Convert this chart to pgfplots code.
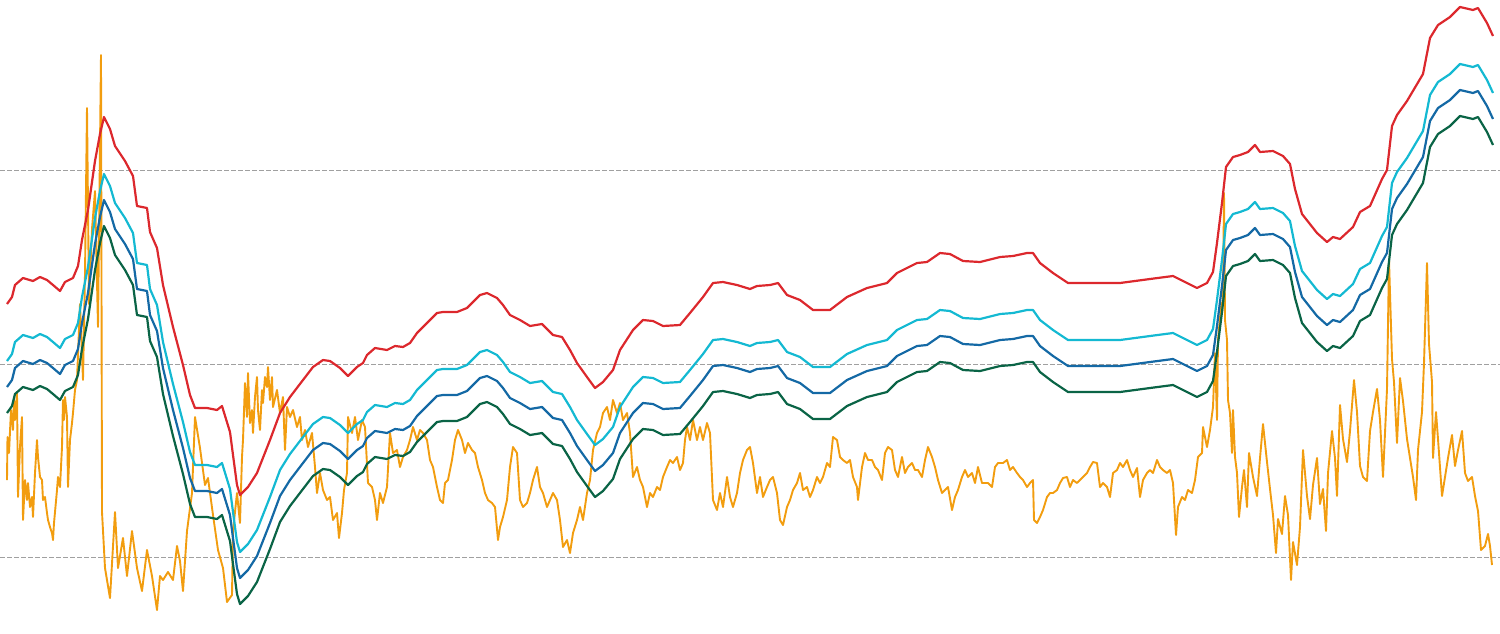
\documentclass[border=0pt]{standalone}
\usepackage{pgfplots}
\pgfplotsset{compat=1.18}
\usepackage{pgfplotstable}
\definecolor{cRed}{RGB}{220,40,45}
\definecolor{cCyan}{RGB}{20,185,210}
\definecolor{cBlue}{RGB}{20,105,165}
\definecolor{cGreen}{RGB}{10,100,70}
\definecolor{cOrange}{RGB}{242,157,15}
\definecolor{cGrid}{RGB}{160,160,160}
\pgfplotstableread{
x r c b g
7 304 361 387 413
12 297 354 380 406
15 285 342 368 394
23 278 335 361 387
33 281 338 364 390
40 277 334 360 386
47 280 337 363 389
53 285 342 368 394
60 291 348 374 400
65 282 339 365 391
73 278 335 361 387
78 266 323 349 375
82 240 297 323 349
88 210 267 293 319
95 161 218 244 270
100 134 191 217 243
104 117 174 200 226
110 129 186 212 238
115 146 203 229 255
125 161 218 244 270
133 176 233 259 285
137 206 263 289 315
147 208 265 291 317
150 232 289 315 341
157 248 305 331 357
163 285 342 368 394
173 327 384 410 436
183 365 422 448 474
190 395 452 478 504
195 408 465 491 517
207 408 465 491 517
217 410 467 493 519
222 406 463 489 515
230 432 489 515 541
233 455 512 538 564
237 485 542 568 594
240 495 552 578 604
248 487 544 570 596
257 473 530 556 582
270 440 497 523 549
280 413 470 496 522
290 397 454 480 506
303 380 437 463 489
313 367 424 450 476
323 360 417 443 469
330 361 418 444 470
340 368 425 451 477
348 376 433 459 485
357 367 424 450 476
363 363 420 446 472
367 355 412 438 464
375 348 405 431 457
387 350 407 433 459
395 346 403 429 455
403 347 404 430 456
410 343 400 426 452
417 333 390 416 442
427 323 380 406 432
437 313 370 396 422
443 312 369 395 421
457 312 369 395 421
467 308 365 391 417
480 295 352 378 404
487 293 350 376 402
497 298 355 381 407
503 305 362 388 414
510 315 372 398 424
520 320 377 403 429
530 326 383 409 435
542 324 381 407 433
553 335 392 418 444
562 337 394 420 446
570 350 407 433 459
577 363 420 446 472
587 377 434 460 486
595 388 445 471 497
603 382 439 465 491
613 370 427 453 479
620 350 407 433 459
633 330 387 413 439
643 320 377 403 429
653 321 378 404 430
663 326 383 409 435
680 325 382 408 434
690 313 370 396 422
703 297 354 380 406
713 283 340 366 392
723 282 339 365 391
737 285 342 368 394
750 289 346 372 398
757 286 343 369 395
770 285 342 368 394
778 283 340 366 392
787 295 352 378 404
800 300 357 383 409
813 310 367 393 419
830 310 367 393 419
847 297 354 380 406
867 288 345 371 397
887 283 340 366 392
897 273 330 356 382
917 263 320 346 372
927 262 319 345 371
940 253 310 336 362
950 254 311 337 363
963 261 318 344 370
980 262 319 345 371
1000 257 314 340 366
1013 256 313 339 365
1027 253 310 336 362
1033 253 310 336 362
1040 263 320 346 372
1053 273 330 356 382
1068 283 340 366 392
1083 283 340 366 392
1120 283 340 366 392
1150 279 336 362 388
1173 276 333 359 385
1187 283 340 366 392
1197 288 345 371 397
1207 283 340 366 392
1213 272 329 355 381
1217 243 300 326 352
1222 203 260 286 312
1226 167 224 250 276
1233 157 214 240 266
1240 155 212 238 264
1248 152 209 235 261
1255 145 202 228 254
1260 152 209 235 261
1273 151 208 234 260
1283 156 213 239 265
1290 164 221 247 273
1295 189 246 272 298
1302 214 271 297 323
1317 233 290 316 342
1327 242 299 325 351
1333 237 294 320 346
1340 239 296 322 348
1353 227 284 310 336
1360 212 269 295 321
1370 206 263 289 315
1382 179 236 262 288
1387 170 227 253 279
1392 126 183 209 235
1397 115 172 198 224
1407 101 158 184 210
1423 74 131 157 183
1430 38 95 121 147
1438 25 82 108 134
1450 17 74 100 126
1460 7 64 90 116
1473 10 67 93 119
1478 8 65 91 117
1487 23 80 106 132
1493 36 93 119 145
}\smoothdata
\pgfplotstableread{
x y
7 480
7.5 437
9 453
11 410
13 430
14 400
15 420
17 393
18 497
20 447
22 417
23 520
25 480
27 500
28 483
30 507
32 497
33 517
35 473
37 440
38 457
40 477
42 480
43 500
45 497
47 513
48 520
50 527
52 533
53 540
54 523
57 490
58 477
60 487
62 447
63 400
64 420
65 397
67 417
68 487
70 440
72 423
73 413
75 390
77 380
80 304
83 380
85 274
87 108
89 304
92 229
95 191
98 327
101 55
102 512
105 568
110 598
115 512
118 568
123 538
127 576
132 531
137 568
142 591
147 550
152 576
157 610
160 576
163 580
168 572
173 580
177 546
180 561
183 591
187 531
192 493
195 417
200 448
205 485
208 478
213 515
218 550
223 568
227 602
232 595
233 531
237 493
240 523
242 457
243 440
245 383
247 417
248 373
250 423
252 410
253 433
255 397
257 377
258 410
260 430
262 390
263 403
265 377
267 387
268 367
270 400
272 377
273 407
277 390
280 413
283 397
285 450
287 407
290 417
293 410
297 427
300 417
302 440
305 430
308 447
312 433
315 467
317 493
320 473
323 490
327 500
330 497
333 520
337 513
339 538
342 513
344 490
347 473
348 417
352 433
355 417
358 440
362 420
365 427
368 483
372 487
375 500
377 520
380 493
383 503
387 487
390 433
393 453
397 450
400 467
403 457
407 450
410 440
413 427
417 440
420 430
423 433
427 440
430 460
433 467
437 487
440 500
443 503
445 483
448 480
452 460
455 440
458 430
462 440
465 453
468 443
472 450
475 453
478 467
482 480
485 493
488 500
492 503
495 507
498 540
500 527
503 517
507 500
510 467
513 447
517 453
520 500
523 507
527 503
530 493
533 480
537 467
540 487
543 493
547 507
550 500
553 493
557 500
560 520
563 547
567 540
570 553
573 533
577 520
580 507
583 520
587 493
590 480
593 450
597 433
600 427
603 413
607 407
610 420
613 400
617 413
620 403
623 420
627 413
630 433
633 477
637 467
640 480
643 487
647 507
650 493
653 497
657 487
660 490
663 477
667 467
670 460
673 463
677 457
680 470
683 463
685 440
687 427
690 440
693 420
697 440
700 427
703 440
707 423
710 433
713 500
717 510
720 493
723 507
727 477
730 497
733 507
737 493
740 473
743 460
747 450
750 447
753 463
757 493
760 477
763 497
767 487
770 480
773 477
777 493
780 520
783 525
787 507
790 500
793 490
797 483
800 473
803 490
807 487
810 497
813 490
817 477
820 483
823 477
827 463
830 467
833 437
837 440
840 457
843 460
847 463
850 460
853 477
857 487
858 500
862 467
865 453
868 460
872 460
875 467
878 470
882 480
885 453
888 447
892 450
895 470
898 477
902 457
905 473
908 467
912 463
915 470
918 470
922 477
925 460
928 447
932 457
935 467
938 480
942 493
945 490
948 487
952 510
955 497
958 490
962 477
965 470
968 477
972 473
975 483
978 467
982 483
985 483
988 483
992 487
995 467
998 463
1003 463
1007 460
1010 470
1013 467
1017 473
1020 477
1023 480
1027 487
1030 483
1033 480
1034 520
1037 523
1040 517
1043 510
1047 497
1050 493
1053 493
1057 490
1060 483
1063 478
1067 477
1070 487
1073 480
1077 483
1080 480
1083 477
1087 473
1090 467
1093 462
1097 463
1100 487
1103 483
1107 487
1110 497
1113 473
1117 470
1120 463
1123 467
1127 460
1130 470
1133 477
1137 468
1140 497
1143 480
1147 473
1150 470
1153 473
1157 460
1160 467
1163 470
1167 473
1170 470
1173 483
1176 535
1178 507
1182 497
1185 500
1188 490
1192 493
1195 480
1198 457
1202 453
1203 427
1207 447
1210 430
1213 407
1215 353
1217 420
1218 340
1221 307
1223 300
1224 193
1225 320
1227 340
1228 400
1230 413
1232 453
1233 410
1235 457
1237 473
1239 517
1242 487
1244 470
1247 507
1249 453
1253 477
1257 496
1260 458
1263 424
1267 462
1270 489
1273 515
1276 553
1278 519
1282 534
1285 496
1288 515
1291 580
1293 542
1297 565
1300 527
1303 450
1307 496
1310 519
1313 485
1317 458
1320 504
1323 489
1326 531
1328 473
1332 431
1335 458
1337 496
1340 405
1343 439
1347 462
1350 431
1354 380
1357 412
1360 466
1363 477
1367 481
1370 431
1373 412
1377 389
1380 420
1383 477
1387 389
1389 260
1392 359
1394 382
1397 443
1400 378
1403 401
1407 439
1410 458
1413 477
1416 500
1418 450
1422 412
1424 363
1427 263
1429 344
1432 382
1433 458
1436 412
1438 439
1442 496
1445 477
1448 458
1452 435
1455 466
1458 450
1462 431
1465 473
1468 481
1472 477
1475 496
1478 511
1481 550
1485 546
1488 534
1490 546
1492 565
}\orangedata
\begin{document}
\begin{tikzpicture}
\begin{axis}[
  width=1500pt, height=633pt, scale only axis,
  xmin=0, xmax=1500, ymin=0, ymax=633, y dir=reverse,
  axis line style={draw=none},
  xtick=\empty, ytick={170,364,557},
  yticklabels={}, major tick length=0pt,
  ymajorgrids,
  grid style={cGrid, line width=0.9pt, dash pattern=on 4.5pt off 2.5pt},
  clip=true,
]
\addplot[cOrange, line width=1.9pt, line join=round] table[x=x, y=y] {\orangedata};
\addplot[cRed, line width=2.2pt, line join=round] table[x=x, y=r] {\smoothdata};
\addplot[cCyan, line width=2.2pt, line join=round] table[x=x, y=c] {\smoothdata};
\addplot[cBlue, line width=2.2pt, line join=round] table[x=x, y=b] {\smoothdata};
\addplot[cGreen, line width=2.2pt, line join=round] table[x=x, y=g] {\smoothdata};
\end{axis}
\pgfresetboundingbox
\path (current axis.south west) rectangle (current axis.north east);
\end{tikzpicture}
\end{document}
